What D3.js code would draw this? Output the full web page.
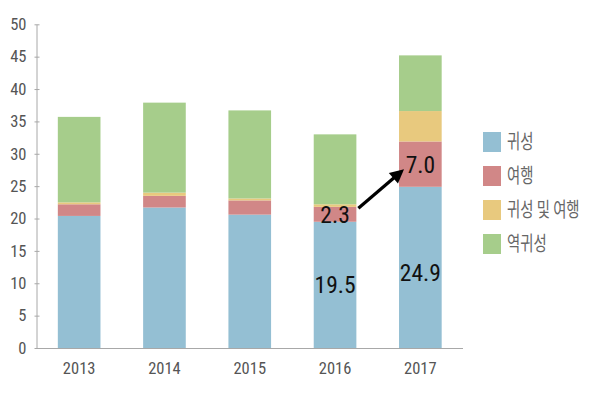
<!DOCTYPE html>
<html><head><meta charset="utf-8">
<script src="https://cdn.jsdelivr.net/npm/d3@7"></script>
<style>
body{margin:0;background:#fff;}
svg{display:block;}
</style></head>
<body>
<svg id="chart" width="600" height="400"></svg>
<script>
const years = ["2013","2014","2015","2016","2017"];
const seriesNames = ["귀성","여행","귀성 및 여행","역귀성"];
const homecoming = [20.4, 21.7, 20.6, 19.5, 24.9];
const travel = [1.8, 1.8, 2.2, 2.3, 7.0];
const homeAndTravel = [0.3, 0.5, 0.3, 0.4, 4.7];
const reverse = [13.2, 13.9, 13.6, 10.8, 8.6];
const yTicks = [0,5,10,15,20,25,30,35,40,45,50];
const colors = ["#94bfd3","#d18787","#e8c97e","#a6cd8b"];
const labelled = [{series:0, year:"2016"},{series:0, year:"2017"},{series:1, year:"2016"},{series:1, year:"2017"}];

const seriesValues = [homecoming, travel, homeAndTravel, reverse];
const rows = years.map((yr,i)=>{
  const r = {year: yr};
  seriesNames.forEach((s,k)=> r[s] = seriesValues[k][i]);
  return r;
});
const stacked = d3.stack().keys(seriesNames)(rows);

const svg = d3.select("#chart");
const x = d3.scaleBand().domain(years).range([36.5, 463]).paddingInner(0.5).paddingOuter(0.25);
const y = d3.scaleLinear().domain([0,50]).range([348, 24.3]);
const narrow = "'Liberation Sans Narrow','Roboto Condensed','Arial Narrow',sans-serif";

// bars
svg.append("g").selectAll("g").data(stacked).join("g")
  .attr("fill",(d,i)=>colors[i])
  .selectAll("rect").data(d=>d).join("rect")
  .attr("x", d=>x(d.data.year))
  .attr("width", x.bandwidth())
  .attr("y", d=>y(d[1]))
  .attr("height", d=>y(d[0])-y(d[1]));

// y axis
const yAxis = svg.append("g").attr("transform","translate(36.5,0)")
  .call(d3.axisLeft(y).tickValues(yTicks).tickSizeInner(2).tickSizeOuter(0).tickPadding(8));
yAxis.select(".domain").attr("stroke","#a8a8a8");
yAxis.selectAll(".tick line").attr("x1",-2).attr("x2",3).attr("stroke","#a8a8a8");
yAxis.selectAll(".tick text").attr("font-family",narrow).attr("font-size",16.5).attr("fill","#555");

// x axis
const xAxis = svg.append("g").attr("transform","translate(0,348)")
  .call(d3.axisBottom(x).tickSize(0).tickPadding(14));
xAxis.select(".domain").attr("stroke","#a8a8a8").attr("d","M36.5,0.5H463");
xAxis.selectAll(".tick text").attr("font-family",narrow).attr("font-size",16.5).attr("fill","#555");

// value labels
const mid = (s, yr) => { const d = stacked[s].find(e=>e.data.year===yr); return (y(d[0])+y(d[1]))/2; };
svg.append("g").selectAll("text").data(labelled).join("text")
  .attr("x", d=>x(d.year)+x.bandwidth()/2)
  .attr("y", d=>mid(d.series,d.year) + (d.series===0 && d.year==="2017" ? 5 : 0))
  .attr("dy","0.36em")
  .attr("text-anchor","middle")
  .attr("font-family",narrow).attr("font-size",23.5).attr("fill","#111")
  .text(d=>seriesValues[d.series][years.indexOf(d.year)].toFixed(1));

// arrow
const x0 = x("2016")+x.bandwidth()+2, y0 = mid(1,"2016")-6;
const x1 = x("2017")+5, y1 = mid(1,"2017")+5;
const dx = x1-x0, dy = y1-y0, len = Math.hypot(dx,dy), ux = dx/len, uy = dy/len;
const hl = 14, hw = 7;
const bx = x1-ux*hl, by = y1-uy*hl;
svg.append("line").attr("x1",x0).attr("y1",y0).attr("x2",bx+ux*2).attr("y2",by+uy*2)
  .attr("stroke","#000").attr("stroke-width",3.2);
svg.append("path").attr("fill","#000")
  .attr("d",`M${x1},${y1}L${bx-uy*hw},${by+ux*hw}L${bx+uy*hw},${by-ux*hw}Z`);

// legend
const lg = svg.append("g").attr("transform","translate(483,132)");
const item = lg.selectAll("g").data(seriesNames).join("g")
  .attr("transform",(d,i)=>`translate(0,${i*34})`);
item.append("rect").attr("width",18).attr("height",20).attr("fill",(d,i)=>colors[i]);
item.append("text").attr("transform","translate(24,10) scale(0.72,1)")
  .attr("dy","0.36em")
  .attr("font-family","'Noto Sans CJK KR',sans-serif").attr("font-size",20).attr("fill","#666")
  .text(d=>d);
</script>
</body></html>
